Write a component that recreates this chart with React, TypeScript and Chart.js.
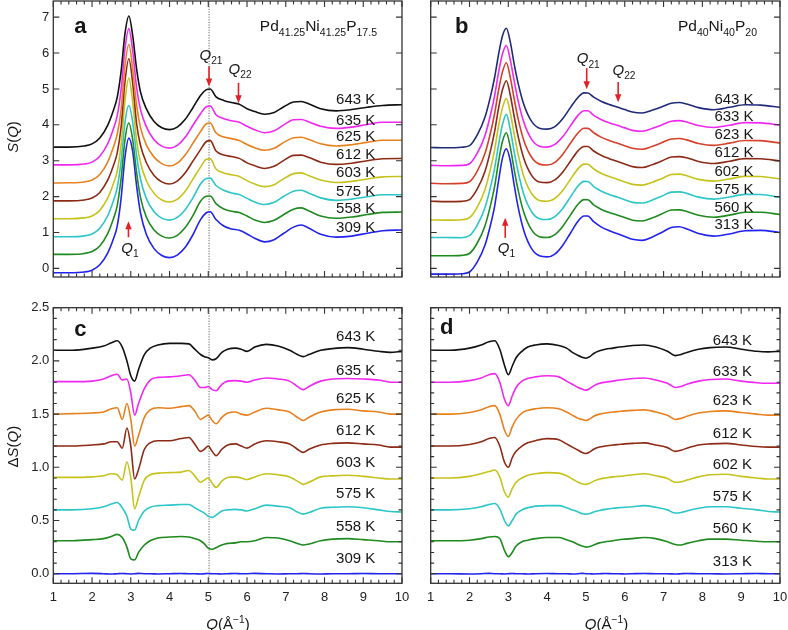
import React, { useEffect, useRef } from "react";
import { Chart, registerables } from "chart.js";
Chart.register(...registerables);

const FONT = '"Liberation Sans", Arial, Helvetica, sans-serif';

// ---------- DATA ----------
const X_TICKS = [1, 2, 3, 4, 5, 6, 7, 8, 9, 10];
const Y_TICKS_S = [0, 1, 2, 3, 4, 5, 6, 7];
const Y_TICKS_DS = [0, 0.5, 1.0, 1.5, 2.0, 2.5];

// Q grid for S(Q) panels (a, b)
const QS = [1.0, 1.4, 1.8, 2.0, 2.2, 2.4, 2.55, 2.65, 2.75, 2.85, 2.95, 3.05, 3.15, 3.25, 3.4, 3.6, 3.8, 4.0, 4.2, 4.4, 4.6, 4.8, 4.95, 5.05, 5.2, 5.4, 5.6, 5.8, 6.0, 6.2, 6.45, 6.7, 6.95, 7.2, 7.4, 7.6, 7.9, 8.3, 8.7, 9.1, 9.5, 10.0];

// Panel a: Pd41.25Ni41.25P17.5
const TEMPS_A = ["643 K", "635 K", "625 K", "612 K", "603 K", "575 K", "558 K", "309 K"];
const S_A_643 = [3.38, 3.38, 3.41, 3.47, 3.635, 3.98, 4.4, 4.77, 5.49, 6.54, 7.03, 6.48, 5.56, 4.92, 4.45, 4.09, 3.918, 3.865, 3.935, 4.145, 4.47, 4.82, 4.98, 5.0, 4.78, 4.68, 4.62, 4.575, 4.45, 4.37, 4.296, 4.345, 4.505, 4.635, 4.65, 4.58, 4.45, 4.39, 4.425, 4.49, 4.54, 4.56];
const S_A_635 = [2.885, 2.885, 2.908, 2.96, 3.125, 3.465, 3.885, 4.255, 4.98, 6.12, 6.68, 6.05, 5.04, 4.43, 3.95, 3.585, 3.407, 3.35, 3.427, 3.645, 3.98, 4.31, 4.505, 4.525, 4.28, 4.17, 4.112, 4.07, 3.96, 3.86, 3.78, 3.833, 4.0, 4.14, 4.15, 4.08, 3.96, 3.9, 3.935, 4.01, 4.07, 4.07];
const S_A_625 = [2.38, 2.384, 2.408, 2.46, 2.617, 2.955, 3.375, 3.74, 4.42, 5.65, 6.24, 5.55, 4.54, 3.93, 3.44, 3.1, 2.92, 2.855, 2.935, 3.155, 3.48, 3.81, 4.03, 4.05, 3.77, 3.66, 3.615, 3.565, 3.45, 3.36, 3.29, 3.345, 3.51, 3.64, 3.655, 3.59, 3.47, 3.41, 3.445, 3.51, 3.57, 3.57];
const S_A_612 = [1.88, 1.88, 1.907, 1.96, 2.117, 2.45, 2.86, 3.22, 3.94, 5.2, 5.84, 5.15, 4.03, 3.43, 2.95, 2.59, 2.41, 2.35, 2.43, 2.655, 2.98, 3.31, 3.535, 3.56, 3.27, 3.16, 3.115, 3.065, 2.94, 2.86, 2.785, 2.843, 3.01, 3.15, 3.155, 3.09, 2.96, 2.897, 2.93, 2.998, 3.055, 3.06];
const S_A_603 = [1.385, 1.385, 1.408, 1.46, 1.617, 1.95, 2.36, 2.71, 3.44, 4.68, 5.3, 4.63, 3.56, 2.95, 2.45, 2.09, 1.907, 1.85, 1.923, 2.14, 2.48, 2.82, 3.04, 3.05, 2.77, 2.66, 2.607, 2.563, 2.445, 2.35, 2.277, 2.333, 2.5, 2.64, 2.66, 2.58, 2.46, 2.392, 2.425, 2.492, 2.55, 2.56];
const S_A_575 = [0.88, 0.88, 0.905, 0.96, 1.12, 1.46, 1.88, 2.25, 2.98, 4.07, 4.54, 4.07, 3.15, 2.49, 1.95, 1.58, 1.4, 1.345, 1.42, 1.63, 1.96, 2.35, 2.505, 2.515, 2.31, 2.175, 2.1, 2.06, 1.95, 1.85, 1.78, 1.84, 2.01, 2.15, 2.175, 2.095, 1.965, 1.895, 1.93, 1.995, 2.05, 2.05];
const S_A_558 = [0.39, 0.39, 0.415, 0.47, 0.625, 0.96, 1.375, 1.75, 2.5, 3.59, 4.05, 3.58, 2.67, 1.98, 1.43, 1.07, 0.9, 0.845, 0.92, 1.13, 1.465, 1.87, 2.01, 2.015, 1.805, 1.655, 1.59, 1.555, 1.46, 1.35, 1.28, 1.34, 1.5, 1.65, 1.685, 1.6, 1.46, 1.395, 1.43, 1.5, 1.56, 1.57];
const S_A_309 = [-0.12, -0.12, -0.1, -0.05, 0.1, 0.42, 0.82, 1.18, 1.95, 3.1, 3.63, 3.25, 2.3, 1.55, 0.95, 0.55, 0.36, 0.3, 0.37, 0.58, 0.93, 1.36, 1.55, 1.58, 1.36, 1.18, 1.1, 1.06, 0.96, 0.84, 0.74, 0.8, 0.98, 1.15, 1.21, 1.12, 0.95, 0.87, 0.9, 0.98, 1.05, 1.07];

// Panel b: Pd40Ni40P20
const TEMPS_B = ["643 K", "633 K", "623 K", "612 K", "602 K", "575 K", "560 K", "313 K"];
const S_B_643 = [3.37, 3.36, 3.375, 3.42, 3.72, 4.215, 4.835, 5.34, 5.97, 6.48, 6.69, 6.31, 5.7, 5.17, 4.565, 4.095, 3.905, 3.88, 3.95, 4.17, 4.48, 4.77, 4.89, 4.885, 4.77, 4.65, 4.565, 4.498, 4.425, 4.355, 4.33, 4.405, 4.5, 4.6, 4.62, 4.58, 4.48, 4.422, 4.488, 4.56, 4.55, 4.49];
const S_B_633 = [2.87, 2.86, 2.87, 2.915, 3.21, 3.705, 4.322, 4.83, 5.47, 5.98, 6.21, 5.81, 5.23, 4.68, 4.07, 3.595, 3.405, 3.38, 3.453, 3.665, 3.97, 4.27, 4.392, 4.39, 4.265, 4.143, 4.055, 3.988, 3.915, 3.845, 3.82, 3.895, 3.995, 4.1, 4.118, 4.08, 3.98, 3.927, 3.988, 4.06, 4.055, 3.99];
const S_B_623 = [2.37, 2.36, 2.368, 2.415, 2.71, 3.205, 3.822, 4.33, 4.97, 5.48, 5.73, 5.32, 4.73, 4.18, 3.565, 3.095, 2.905, 2.88, 2.955, 3.175, 3.485, 3.78, 3.905, 3.902, 3.78, 3.65, 3.562, 3.492, 3.42, 3.345, 3.32, 3.397, 3.5, 3.605, 3.617, 3.58, 3.48, 3.427, 3.49, 3.563, 3.56, 3.49];
const S_B_612 = [1.87, 1.86, 1.868, 1.915, 2.213, 2.705, 3.322, 3.83, 4.47, 4.98, 5.23, 4.83, 4.24, 3.69, 3.06, 2.59, 2.405, 2.39, 2.465, 2.68, 2.985, 3.28, 3.397, 3.395, 3.27, 3.143, 3.057, 2.983, 2.91, 2.835, 2.81, 2.887, 2.99, 3.105, 3.115, 3.08, 2.98, 2.922, 2.985, 3.058, 3.055, 2.99];
const S_B_602 = [1.35, 1.345, 1.357, 1.415, 1.71, 2.2, 2.815, 3.325, 3.97, 4.48, 4.73, 4.34, 3.75, 3.195, 2.56, 2.085, 1.893, 1.87, 1.948, 2.17, 2.48, 2.78, 2.905, 2.902, 2.77, 2.645, 2.557, 2.484, 2.41, 2.34, 2.32, 2.395, 2.5, 2.615, 2.625, 2.58, 2.48, 2.432, 2.492, 2.563, 2.56, 2.49];
const S_B_575 = [0.86, 0.86, 0.855, 0.91, 1.205, 1.695, 2.305, 2.81, 3.455, 4.01, 4.29, 3.87, 3.26, 2.7, 2.057, 1.578, 1.385, 1.36, 1.44, 1.67, 1.985, 2.3, 2.423, 2.42, 2.28, 2.15, 2.058, 1.988, 1.915, 1.84, 1.82, 1.9, 2.01, 2.125, 2.132, 2.09, 1.985, 1.93, 1.988, 2.063, 2.06, 1.98];
const S_B_560 = [0.35, 0.35, 0.363, 0.415, 0.707, 1.19, 1.797, 2.3, 2.985, 3.54, 3.78, 3.38, 2.76, 2.195, 1.555, 1.072, 0.883, 0.86, 0.94, 1.17, 1.485, 1.795, 1.915, 1.912, 1.77, 1.643, 1.555, 1.487, 1.415, 1.34, 1.32, 1.405, 1.515, 1.628, 1.63, 1.585, 1.48, 1.425, 1.483, 1.563, 1.563, 1.5];
const S_B_313 = [-0.16, -0.16, -0.15, -0.1, 0.18, 0.65, 1.25, 1.75, 2.45, 3.08, 3.33, 3.0, 2.33, 1.72, 1.05, 0.55, 0.35, 0.32, 0.4, 0.64, 0.98, 1.32, 1.46, 1.46, 1.3, 1.15, 1.05, 0.97, 0.89, 0.81, 0.78, 0.87, 1.0, 1.14, 1.16, 1.1, 0.97, 0.9, 0.96, 1.05, 1.06, 1.0];

// Q grid for ΔS(Q) panels (c, d)
const QD = [1.0, 1.5, 2.0, 2.3, 2.5, 2.65, 2.78, 2.9, 3.0, 3.1, 3.2, 3.35, 3.5, 3.7, 4.0, 4.3, 4.5, 4.65, 4.8, 4.9, 5.0, 5.1, 5.2, 5.35, 5.5, 5.7, 5.85, 6.0, 6.2, 6.5, 6.8, 7.1, 7.3, 7.45, 7.6, 7.9, 8.2, 8.6, 9.0, 9.4, 9.7, 10.0];

// Panel c
const D_C_643 = [2.1, 2.1, 2.12, 2.14, 2.17, 2.19, 2.13, 2.0, 1.86, 1.81, 1.92, 2.06, 2.12, 2.15, 2.165, 2.165, 2.16, 2.11, 2.06, 2.04, 2.03, 2.01, 2.02, 2.08, 2.11, 2.12, 2.11, 2.09, 2.13, 2.155, 2.14, 2.1, 2.06, 2.04, 2.06, 2.1, 2.115, 2.125, 2.11, 2.09, 2.08, 2.09];
const D_C_635 = [1.805, 1.805, 1.81, 1.83, 1.86, 1.875, 1.82, 1.83, 1.7, 1.49, 1.6, 1.74, 1.82, 1.845, 1.85, 1.86, 1.87, 1.82, 1.75, 1.75, 1.76, 1.73, 1.72, 1.78, 1.81, 1.815, 1.81, 1.8, 1.82, 1.84, 1.83, 1.81, 1.76, 1.73, 1.76, 1.81, 1.83, 1.835, 1.83, 1.82, 1.8, 1.8];
const D_C_625 = [1.5, 1.505, 1.51, 1.52, 1.55, 1.56, 1.45, 1.6, 1.45, 1.2, 1.3, 1.47, 1.54, 1.56, 1.555, 1.57, 1.58, 1.53, 1.45, 1.47, 1.49, 1.44, 1.41, 1.47, 1.51, 1.52, 1.5, 1.49, 1.52, 1.555, 1.54, 1.52, 1.47, 1.44, 1.47, 1.52, 1.54, 1.545, 1.53, 1.52, 1.5, 1.5];
const D_C_612 = [1.2, 1.2, 1.21, 1.22, 1.24, 1.24, 1.18, 1.37, 1.2, 0.89, 0.98, 1.17, 1.23, 1.25, 1.25, 1.27, 1.28, 1.22, 1.15, 1.17, 1.2, 1.15, 1.11, 1.17, 1.21, 1.22, 1.2, 1.18, 1.22, 1.25, 1.24, 1.22, 1.17, 1.14, 1.17, 1.21, 1.225, 1.23, 1.22, 1.21, 1.19, 1.19];
const D_C_603 = [0.905, 0.905, 0.91, 0.92, 0.94, 0.93, 0.88, 1.05, 0.9, 0.61, 0.72, 0.88, 0.93, 0.945, 0.95, 0.955, 0.97, 0.92, 0.86, 0.88, 0.9, 0.85, 0.81, 0.87, 0.905, 0.91, 0.9, 0.885, 0.91, 0.94, 0.93, 0.91, 0.87, 0.84, 0.86, 0.91, 0.92, 0.925, 0.915, 0.9, 0.89, 0.89];
const D_C_575 = [0.6, 0.6, 0.61, 0.63, 0.655, 0.67, 0.62, 0.54, 0.42, 0.41, 0.5, 0.59, 0.625, 0.64, 0.645, 0.65, 0.65, 0.62, 0.59, 0.57, 0.54, 0.53, 0.55, 0.59, 0.6, 0.605, 0.6, 0.59, 0.61, 0.645, 0.635, 0.62, 0.58, 0.56, 0.575, 0.615, 0.625, 0.63, 0.62, 0.6, 0.585, 0.58];
const D_C_558 = [0.31, 0.31, 0.32, 0.33, 0.35, 0.37, 0.34, 0.25, 0.14, 0.13, 0.2, 0.27, 0.31, 0.335, 0.345, 0.35, 0.345, 0.33, 0.31, 0.28, 0.24, 0.23, 0.245, 0.27, 0.285, 0.29, 0.3, 0.3, 0.31, 0.34, 0.335, 0.31, 0.285, 0.27, 0.28, 0.31, 0.325, 0.33, 0.32, 0.31, 0.3, 0.3];
const D_C_309 = [0.0, 0.0, 0.003, 0.0, -0.003, 0.0, 0.002, 0.0, -0.002, 0.0, 0.003, 0.0, 0.0, -0.002, 0.0, 0.002, 0.0, 0.0, -0.003, 0.0, 0.002, 0.0, 0.0, -0.002, 0.0, 0.002, 0.0, 0.0, 0.003, 0.0, -0.002, 0.0, 0.0, 0.002, 0.0, -0.002, 0.0, 0.0, 0.002, 0.0, 0.0, 0.0];

// Panel d
const D_D_643 = [2.1, 2.1, 2.12, 2.15, 2.18, 2.19, 2.11, 1.96, 1.87, 1.95, 2.03, 2.09, 2.13, 2.15, 2.16, 2.145, 2.12, 2.08, 2.05, 2.035, 2.025, 2.04, 2.07, 2.095, 2.11, 2.12, 2.13, 2.135, 2.145, 2.15, 2.13, 2.09, 2.05, 2.06, 2.08, 2.11, 2.125, 2.13, 2.11, 2.09, 2.085, 2.09];
const D_D_633 = [1.8, 1.8, 1.815, 1.84, 1.87, 1.88, 1.8, 1.64, 1.58, 1.67, 1.75, 1.81, 1.835, 1.85, 1.86, 1.85, 1.81, 1.78, 1.75, 1.735, 1.725, 1.74, 1.765, 1.79, 1.8, 1.81, 1.82, 1.825, 1.835, 1.84, 1.82, 1.79, 1.75, 1.76, 1.78, 1.81, 1.825, 1.83, 1.81, 1.795, 1.79, 1.79];
const D_D_623 = [1.5, 1.5, 1.515, 1.54, 1.57, 1.58, 1.5, 1.35, 1.29, 1.38, 1.45, 1.51, 1.535, 1.55, 1.56, 1.55, 1.52, 1.49, 1.46, 1.45, 1.44, 1.455, 1.48, 1.5, 1.51, 1.52, 1.525, 1.53, 1.535, 1.54, 1.52, 1.49, 1.45, 1.46, 1.48, 1.51, 1.525, 1.53, 1.515, 1.5, 1.49, 1.49];
const D_D_612 = [1.2, 1.2, 1.215, 1.24, 1.27, 1.28, 1.2, 1.05, 1.0, 1.09, 1.15, 1.2, 1.23, 1.25, 1.27, 1.26, 1.22, 1.19, 1.16, 1.14, 1.13, 1.145, 1.17, 1.19, 1.2, 1.21, 1.215, 1.22, 1.225, 1.23, 1.21, 1.185, 1.15, 1.16, 1.18, 1.21, 1.22, 1.225, 1.21, 1.195, 1.19, 1.19];
const D_D_602 = [0.9, 0.9, 0.915, 0.94, 0.96, 0.975, 0.91, 0.77, 0.72, 0.8, 0.86, 0.9, 0.925, 0.94, 0.95, 0.945, 0.92, 0.89, 0.86, 0.845, 0.84, 0.85, 0.87, 0.89, 0.9, 0.91, 0.915, 0.92, 0.93, 0.94, 0.92, 0.895, 0.86, 0.865, 0.88, 0.91, 0.93, 0.935, 0.915, 0.9, 0.89, 0.89];
const D_D_575 = [0.6, 0.6, 0.61, 0.63, 0.65, 0.66, 0.61, 0.5, 0.45, 0.5, 0.56, 0.6, 0.62, 0.635, 0.64, 0.64, 0.62, 0.6, 0.58, 0.565, 0.56, 0.565, 0.58, 0.595, 0.605, 0.615, 0.62, 0.625, 0.63, 0.64, 0.625, 0.6, 0.57, 0.575, 0.59, 0.615, 0.63, 0.63, 0.615, 0.6, 0.585, 0.58];
const D_D_560 = [0.31, 0.31, 0.315, 0.33, 0.345, 0.35, 0.33, 0.22, 0.16, 0.2, 0.26, 0.3, 0.315, 0.33, 0.34, 0.34, 0.32, 0.3, 0.275, 0.26, 0.25, 0.255, 0.27, 0.29, 0.3, 0.31, 0.32, 0.325, 0.33, 0.34, 0.33, 0.3, 0.275, 0.27, 0.285, 0.31, 0.325, 0.325, 0.315, 0.305, 0.3, 0.3];
const D_D_313 = [0.0, 0.0, -0.002, 0.0, 0.003, 0.0, 0.0, -0.002, 0.0, 0.002, 0.0, 0.0, -0.003, 0.0, 0.002, 0.0, 0.0, -0.002, 0.0, 0.003, 0.0, 0.0, -0.002, 0.0, 0.002, 0.0, 0.0, -0.002, 0.0, 0.002, 0.0, 0.0, -0.003, 0.0, 0.002, 0.0, 0.0, -0.002, 0.0, 0.002, 0.0, 0.0];

// ---------- STYLE ----------
const BLACK = "#111111";
const NAVY = "#1f2a78";
const MAGENTA = "#f027f0";
const ORANGE = "#e8801e";
const RED = "#d6402a";
const BROWN = "#8c2a16";
const YELLOW = "#c6c21c";
const CYAN = "#2cc6c8";
const GREEN = "#1f8a1f";
const BLUE = "#2222ee";
const ARROW_RED = "#e3202a";

const COLORS_A = [BLACK, MAGENTA, ORANGE, BROWN, YELLOW, CYAN, GREEN, BLUE];
const COLORS_B = [NAVY, MAGENTA, RED, BROWN, YELLOW, CYAN, GREEN, BLUE];
const COLORS_D = [BLACK, MAGENTA, ORANGE, BROWN, YELLOW, CYAN, GREEN, BLUE];

type Part = { t: string; i?: boolean; b?: boolean; sub?: boolean; sup?: boolean };

function partFont(p: Part, size: number) {
  const s = p.sub || p.sup ? size * 0.68 : size;
  return `${p.i ? "italic " : ""}${p.b ? "bold " : ""}${s}px ${FONT}`;
}

function drawRich(ctx: CanvasRenderingContext2D, parts: Part[], x: number, y: number, size: number, align: "left" | "center" | "right") {
  let w = 0;
  for (const p of parts) {
    ctx.font = partFont(p, size);
    w += ctx.measureText(p.t).width;
  }
  let cx = align === "center" ? x - w / 2 : align === "right" ? x - w : x;
  ctx.textAlign = "left";
  ctx.textBaseline = "alphabetic";
  for (const p of parts) {
    ctx.font = partFont(p, size);
    const dy = p.sub ? size * 0.3 : p.sup ? -size * 0.38 : 0;
    ctx.fillText(p.t, cx, y + dy);
    cx += ctx.measureText(p.t).width;
  }
}

type Arrow = { q: number; from: number; to: number };
type QText = { q: number; y: number; parts: Part[] };

type PanelCfg = {
  left: number; top: number; w: number; h: number;
  pad: { top: number; right: number; bottom: number; left: number };
  q: number[]; series: number[][]; colors: string[]; temps: string[];
  yMin: number; yMax: number; yTicks: number[]; yDec: number; yMinor: number;
  showY: boolean; showX: boolean;
  labelQ: number; labelY: number[];
  dotted?: number;
  arrows: Arrow[]; qTexts: QText[];
  letter: { t: string; dx: number; dy: number };
  comp?: { parts: Part[]; dxRight: number; dyBase: number };
  yTitle?: { parts: Part[]; x: number; y: number };
  xTitle?: { parts: Part[]; x: number; y: number };
};

const Q_PART = (sub?: string): Part[] => (sub ? [{ t: "Q", i: true }, { t: sub, sub: true }] : [{ t: "Q", i: true }]);
const X_TITLE: Part[] = [{ t: "Q", i: true }, { t: "(Å" }, { t: "−1", sup: true }, { t: ")" }];

const PANELS: PanelCfg[] = [
  {
    left: 0, top: 0, w: 412, h: 282,
    pad: { top: 1, right: 10, bottom: 5, left: 0 },
    q: QS, series: [S_A_643, S_A_635, S_A_625, S_A_612, S_A_603, S_A_575, S_A_558, S_A_309],
    colors: COLORS_A, temps: TEMPS_A,
    yMin: -0.24, yMax: 7.45, yTicks: Y_TICKS_S, yDec: 0, yMinor: 0,
    showY: true, showX: false,
    labelQ: 9.31, labelY: [4.69, 4.11, 3.66, 3.16, 2.66, 2.13, 1.65, 1.12],
    dotted: 5.02,
    arrows: [{ q: 2.94, from: 0.87, to: 1.31 }, { q: 5.02, from: 5.63, to: 5.07 }, { q: 5.78, from: 5.17, to: 4.6 }],
    qTexts: [{ q: 2.98, y: 0.44, parts: Q_PART("1") }, { q: 5.07, y: 5.82, parts: Q_PART("21") }, { q: 5.82, y: 5.42, parts: Q_PART("22") }],
    letter: { t: "a", dx: 27, dy: 26 },
    comp: { parts: [{ t: "Pd" }, { t: "41.25", sub: true }, { t: "Ni" }, { t: "41.25", sub: true }, { t: "P" }, { t: "17.5", sub: true }], dxRight: 25, dyBase: 30 },
    yTitle: { parts: [{ t: "S", i: true }, { t: "(" }, { t: "Q", i: true }, { t: ")" }], x: 12, y: 137 },
  },
  {
    left: 412, top: 0, w: 376, h: 282,
    pad: { top: 1, right: 8, bottom: 5, left: 18.7 },
    q: QS, series: [S_B_643, S_B_633, S_B_623, S_B_612, S_B_602, S_B_575, S_B_560, S_B_313],
    colors: COLORS_B, temps: TEMPS_B,
    yMin: -0.24, yMax: 7.45, yTicks: Y_TICKS_S, yDec: 0, yMinor: 0,
    showY: false, showX: false,
    labelQ: 9.32, labelY: [4.69, 4.21, 3.72, 3.21, 2.69, 2.18, 1.7, 1.21],
    arrows: [{ q: 2.92, from: 0.85, to: 1.41 }, { q: 5.02, from: 5.58, to: 4.99 }, { q: 5.83, from: 5.19, to: 4.63 }],
    qTexts: [{ q: 2.95, y: 0.44, parts: Q_PART("1") }, { q: 5.06, y: 5.72, parts: Q_PART("21") }, { q: 5.98, y: 5.39, parts: Q_PART("22") }],
    letter: { t: "b", dx: 31, dy: 26 },
    comp: { parts: [{ t: "Pd" }, { t: "40", sub: true }, { t: "Ni" }, { t: "40", sub: true }, { t: "P" }, { t: "20", sub: true }], dxRight: 23, dyBase: 30 },
  },
  {
    left: 0, top: 296, w: 412, h: 334,
    pad: { top: 11.7, right: 10, bottom: 0, left: 0 },
    q: QD, series: [D_C_643, D_C_635, D_C_625, D_C_612, D_C_603, D_C_575, D_C_558, D_C_309],
    colors: COLORS_A, temps: TEMPS_A,
    yMin: -0.09, yMax: 2.5, yTicks: Y_TICKS_DS, yDec: 1, yMinor: 0.1,
    showY: true, showX: true,
    labelQ: 9.31, labelY: [2.23, 1.91, 1.64, 1.34, 1.04, 0.75, 0.44, 0.14],
    dotted: 5.02,
    arrows: [], qTexts: [],
    letter: { t: "c", dx: 27, dy: 22 },
    yTitle: { parts: [{ t: "Δ" }, { t: "S", i: true }, { t: "(" }, { t: "Q", i: true }, { t: ")" }], x: 12, y: 150.7 },
    xTitle: { parts: X_TITLE, x: 228, y: 333 },
  },
  {
    left: 412, top: 296, w: 376, h: 334,
    pad: { top: 11.7, right: 8, bottom: 0, left: 18.7 },
    q: QD, series: [D_D_643, D_D_633, D_D_623, D_D_612, D_D_602, D_D_575, D_D_560, D_D_313],
    colors: COLORS_D, temps: TEMPS_B,
    yMin: -0.09, yMax: 2.5, yTicks: Y_TICKS_DS, yDec: 1, yMinor: 0.1,
    showY: false, showX: true,
    labelQ: 9.28, labelY: [2.19, 1.9, 1.62, 1.31, 1.02, 0.72, 0.42, 0.11],
    arrows: [], qTexts: [],
    letter: { t: "d", dx: 16, dy: 20 },
    xTitle: { parts: X_TITLE, x: 194.5, y: 333 },
  },
];

function makeDeco(cfg: PanelCfg) {
  return {
    id: "deco",
    beforeDatasetsDraw(chart: any) {
      if (cfg.dotted == null) return;
      const { ctx, chartArea: a, scales } = chart;
      const px = scales.x.getPixelForValue(cfg.dotted);
      ctx.save();
      ctx.strokeStyle = "#666";
      ctx.lineWidth = 1;
      ctx.setLineDash([1.2, 1.4]);
      ctx.beginPath();
      ctx.moveTo(px, a.top);
      ctx.lineTo(px, a.bottom);
      ctx.stroke();
      ctx.restore();
    },
    afterDatasetsDraw(chart: any) {
      const { ctx, chartArea: a, scales } = chart;
      const xs = scales.x, ys = scales.y;
      ctx.save();
      // frame
      ctx.strokeStyle = "#333";
      ctx.lineWidth = 1.3;
      ctx.strokeRect(a.left, a.top, a.right - a.left, a.bottom - a.top);
      // x ticks (inward, top and bottom)
      ctx.lineWidth = 1.1;
      ctx.beginPath();
      for (let i = 0; i <= 45; i++) {
        const v = 1 + i * 0.2;
        const major = i % 5 === 0;
        const len = major ? 6 : 3.5;
        const px = xs.getPixelForValue(v);
        ctx.moveTo(px, a.bottom);
        ctx.lineTo(px, a.bottom - len);
        ctx.moveTo(px, a.top);
        ctx.lineTo(px, a.top + len);
      }
      // y major ticks
      for (const v of cfg.yTicks) {
        const py = ys.getPixelForValue(v);
        ctx.moveTo(a.left, py);
        ctx.lineTo(a.left + 6, py);
        ctx.moveTo(a.right, py);
        ctx.lineTo(a.right - 6, py);
      }
      if (cfg.yMinor > 0) {
        for (let i = 0; i <= 25; i++) {
          const v = i * cfg.yMinor;
          if (i % 5 === 0) continue;
          const py = ys.getPixelForValue(v);
          ctx.moveTo(a.left, py);
          ctx.lineTo(a.left + 3.5, py);
          ctx.moveTo(a.right, py);
          ctx.lineTo(a.right - 3.5, py);
        }
      }
      ctx.stroke();

      // arrows
      ctx.strokeStyle = ARROW_RED;
      ctx.fillStyle = ARROW_RED;
      ctx.lineWidth = 1.6;
      for (const ar of cfg.arrows) {
        const px = xs.getPixelForValue(ar.q);
        const y0 = ys.getPixelForValue(ar.from);
        const y1 = ys.getPixelForValue(ar.to);
        const dir = y1 > y0 ? 1 : -1;
        ctx.beginPath();
        ctx.moveTo(px, y0);
        ctx.lineTo(px, y1 - dir * 6);
        ctx.stroke();
        ctx.beginPath();
        ctx.moveTo(px, y1);
        ctx.lineTo(px - 3.2, y1 - dir * 8);
        ctx.lineTo(px + 3.2, y1 - dir * 8);
        ctx.closePath();
        ctx.fill();
      }

      // texts
      ctx.fillStyle = "#161616";
      for (const qt of cfg.qTexts) {
        drawRich(ctx, qt.parts, xs.getPixelForValue(qt.q), ys.getPixelForValue(qt.y), 15, "center");
      }
      ctx.font = `15px ${FONT}`;
      ctx.textAlign = "right";
      ctx.textBaseline = "middle";
      cfg.temps.forEach((t, i) => {
        ctx.fillText(t, xs.getPixelForValue(cfg.labelQ), ys.getPixelForValue(cfg.labelY[i]));
      });
      // panel letter
      ctx.font = `bold 22px ${FONT}`;
      ctx.textAlign = "center";
      ctx.textBaseline = "middle";
      ctx.fillText(cfg.letter.t, a.left + cfg.letter.dx, a.top + cfg.letter.dy);
      // composition
      if (cfg.comp) drawRich(ctx, cfg.comp.parts, a.right - cfg.comp.dxRight, a.top + cfg.comp.dyBase, 15.5, "right");
      // axis titles
      if (cfg.yTitle) {
        ctx.save();
        ctx.translate(cfg.yTitle.x, cfg.yTitle.y);
        ctx.rotate(-Math.PI / 2);
        drawRich(ctx, cfg.yTitle.parts, 0, 5.5, 15, "center");
        ctx.restore();
      }
      if (cfg.xTitle) drawRich(ctx, cfg.xTitle.parts, cfg.xTitle.x, cfg.xTitle.y, 15, "center");
      ctx.restore();
    },
  };
}

function Panel({ cfg }: { cfg: PanelCfg }) {
  const ref = useRef<HTMLCanvasElement>(null);
  useEffect(() => {
    const canvas = ref.current;
    if (!canvas) return;
    const chart = new Chart(canvas, {
      type: "line",
      data: {
        datasets: cfg.series.map((s, i) => ({
          label: cfg.temps[i],
          data: cfg.q.map((x, j) => ({ x, y: s[j] })),
          borderColor: cfg.colors[i],
          borderWidth: 1.6,
          pointRadius: 0,
          fill: false,
          cubicInterpolationMode: "monotone" as const,
        })),
      },
      options: {
        animation: false,
        responsive: false,
        devicePixelRatio: 1,
        layout: { padding: cfg.pad },
        plugins: { legend: { display: false }, tooltip: { enabled: false } },
        events: [],
        scales: {
          x: {
            type: "linear",
            min: 1,
            max: 10,
            display: cfg.showX,
            grid: { display: false, drawTicks: false },
            border: { display: false },
            ticks: {
              font: { family: FONT, size: 13 },
              color: "#222",
              padding: 6,
              autoSkip: false,
              maxRotation: 0,
              callback: (v: any) => String(v),
            },
            afterBuildTicks: (s: any) => {
              s.ticks = X_TICKS.map((v) => ({ value: v }));
            },
            afterFit: (s: any) => {
              s.height = cfg.showX ? 46.7 : 0;
              s.paddingLeft = 0;
              s.paddingRight = 0;
              s.paddingTop = 0;
              s.paddingBottom = 0;
            },
          },
          y: {
            type: "linear",
            min: cfg.yMin,
            max: cfg.yMax,
            display: cfg.showY,
            grid: { display: false, drawTicks: false },
            border: { display: false },
            ticks: {
              font: { family: FONT, size: 13 },
              color: "#222",
              padding: 4,
              autoSkip: false,
              callback: (v: any) => Number(v).toFixed(cfg.yDec),
            },
            afterBuildTicks: (s: any) => {
              s.ticks = cfg.yTicks.map((v) => ({ value: v }));
            },
            afterFit: (s: any) => {
              s.width = cfg.showY ? 53.3 : 0;
              s.paddingLeft = 0;
              s.paddingRight = 0;
              s.paddingTop = 0;
              s.paddingBottom = 0;
            },
          },
        },
      },
      plugins: [makeDeco(cfg)],
    } as any);
    return () => chart.destroy();
  }, [cfg]);
  return (
    <canvas
      ref={ref}
      width={cfg.w}
      height={cfg.h}
      style={{ position: "absolute", left: cfg.left, top: cfg.top, width: cfg.w, height: cfg.h }}
    />
  );
}

export default function App() {
  return (
    <div style={{ position: "absolute", left: 0, top: 0, width: 788, height: 630, background: "#fff", overflow: "hidden" }}>
      {PANELS.map((p, i) => (
        <Panel key={i} cfg={p} />
      ))}
    </div>
  );
}
